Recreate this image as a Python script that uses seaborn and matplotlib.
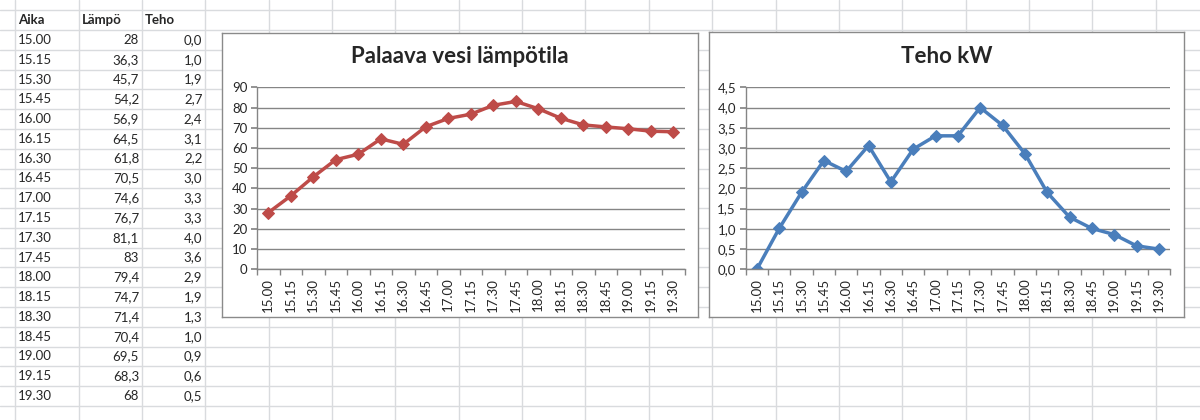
import matplotlib
matplotlib.use('Agg')
import matplotlib.pyplot as plt
import seaborn as sns
import pandas as pd
import numpy as np

aika = ['15.00', '15.15', '15.30', '15.45', '16.00', '16.15', '16.30', '16.45', '17.00', '17.15',
        '17.30', '17.45', '18.00', '18.15', '18.30', '18.45', '19.00', '19.15', '19.30']
lampo = [28, 36.3, 45.7, 54.2, 56.9, 64.5, 61.8, 70.5, 74.6, 76.7,
         81.1, 83, 79.4, 74.7, 71.4, 70.4, 69.5, 68.3, 68]
teho = [0.0, 1.01, 1.9, 2.69, 2.42, 3.06, 2.16, 2.97, 3.3, 3.3,
        4.0, 3.56, 2.86, 1.9, 1.29, 1.01, 0.86, 0.58, 0.5]
headers = ['Aika', 'Lämpö', 'Teho']

df = pd.DataFrame({'Aika': aika, 'Lämpö': lampo, 'Teho': teho})

sns.set_theme(style='white')
plt.rcParams['font.family'] = ['Lato', 'DejaVu Sans']

W, H = 1200, 420
fig = plt.figure(figsize=(W / 100, H / 100), dpi=100)
fig.patch.set_facecolor('white')


def frac(x0, y0, x1, y1):
    # pixel box (top-left origin) -> figure fraction rect
    return [x0 / W, 1 - y1 / H, (x1 - x0) / W, (y1 - y0) / H]


def fi(v):
    return f'{v:g}'.replace('.', ',')


# --- spreadsheet background ---
grid_color = '#D9DBDE'
row_top, row_h = 10.3, 19.78
col_left, col_w = 15.3, 63.35

bg = fig.add_axes([0, 0, 1, 1])
bg.set_xlim(0, W)
bg.set_ylim(H, 0)
bg.axis('off')
for k in range(-1, 22):
    bg.axhline(row_top + k * row_h, color=grid_color, lw=1)
for k in range(20):
    bg.axvline(col_left + k * col_w, color=grid_color, lw=1)

# table text
for j, h in enumerate(headers):
    bg.text(col_left + j * col_w + 3, row_top + 0.5 * row_h, h, fontsize=9.5,
            fontweight='bold', va='center', ha='left')
for i, row in df.iterrows():
    yc = row_top + (i + 1.5) * row_h
    bg.text(col_left + 3, yc, row['Aika'], fontsize=9.5, va='center', ha='left')
    bg.text(col_left + 2 * col_w - 3, yc, fi(row['Lämpö']), fontsize=9.5, va='center', ha='right')
    bg.text(col_left + 3 * col_w - 3, yc, f"{row['Teho']:.1f}".replace('.', ','),
            fontsize=9.5, va='center', ha='right')


# --- charts ---
def draw_chart(frame_px, plot_px, col, color, ymax, ystep, fmt, title):
    fa = fig.add_axes(frac(*frame_px))
    fa.set_facecolor('white')
    fa.set_xticks([])
    fa.set_yticks([])
    for s in fa.spines.values():
        s.set_color('#8A8A8A')
        s.set_linewidth(1)
    title_y = 1 - (56.7 - frame_px[1]) / (frame_px[3] - frame_px[1])
    fa.text(0.5, title_y, title, transform=fa.transAxes, ha='center', va='center',
            fontsize=16, fontweight='bold')

    ax = fig.add_axes(frac(*plot_px))
    ax.set_facecolor('none')
    n = len(df)
    sns.lineplot(data=df, x='Aika', y=col, ax=ax, color=color, lw=2.5, marker='D',
                 markersize=6.5, markeredgecolor=color, sort=False)
    ax.set_xlim(-0.5, n - 0.5)
    ax.set_ylim(0, ymax)
    ax.set_xticks(range(n))
    ax.set_xticklabels(df['Aika'])
    ax.set_xticks(np.arange(n + 1) - 0.5, minor=True)
    yt = np.arange(0, ymax + ystep / 2, ystep)
    ax.set_yticks(yt)
    ax.set_yticklabels([fmt(v) for v in yt])
    ax.set_xlabel('')
    ax.set_ylabel('')
    ax.yaxis.grid(True, color='#858585', lw=1)
    ax.xaxis.grid(False)
    ax.set_axisbelow(True)
    for s in ['top', 'right']:
        ax.spines[s].set_visible(False)
    for s in ['left', 'bottom']:
        ax.spines[s].set_color('#858585')
        ax.spines[s].set_linewidth(1)
    ax.tick_params(axis='x', which='major', length=0, labelrotation=90, labelsize=9.5, pad=6)
    ax.tick_params(axis='x', which='minor', length=4, color='#858585', direction='out', bottom=True)
    ax.tick_params(axis='y', length=4, color='#858585', direction='out', left=True,
                   labelsize=9.5, pad=3)
    return ax


draw_chart((222, 33, 698, 317), (257, 87.3, 684.6, 269.3), 'Lämpö', '#BE4B48',
           90, 10, lambda v: f'{v:.0f}', 'Palaava vesi lämpötila')
draw_chart((709, 32, 1184, 317), (745.7, 87.3, 1170, 269.3), 'Teho', '#4A7EBB',
           4.5, 0.5, lambda v: f'{v:.1f}'.replace('.', ','), 'Teho kW')

fig.savefig('out.png', dpi=100)
